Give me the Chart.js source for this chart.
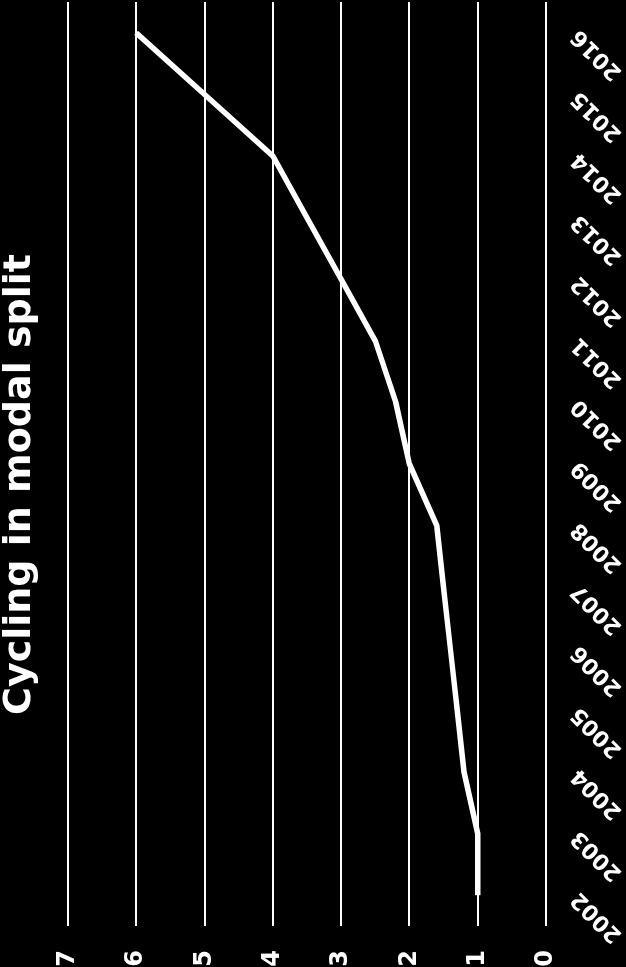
<!DOCTYPE html>
<html>
<head>
<meta charset="utf-8">
<title>Cycling in modal split</title>
<script src="https://cdn.jsdelivr.net/npm/chart.js@4.4.1/dist/chart.umd.min.js"></script>
<style>
  html, body { margin: 0; padding: 0; background: #000; overflow: hidden; }
  /* chart is drawn landscape, then turned a quarter to the left */
  #wrap {
    position: absolute; left: 0; top: 0;
    width: 967px; height: 626px;
    transform-origin: 0 0;
    transform: translateY(967px) rotate(-90deg);
  }
</style>
</head>
<body>
<div id="wrap"><canvas id="modalChart" width="967" height="626"></canvas></div>
<script>
// data
const years = ['2002', '2003', '2004', '2005', '2006', '2007', '2008', '2009',
               '2010', '2011', '2012', '2013', '2014', '2015', '2016'];
const cyclingShare = [1.0, 1.0, 1.2, 1.3, 1.4, 1.5, 1.6, 2.0,
                      2.2, 2.5, 3.0, 3.5, 4.0, 5.0, 6.0];
const yMin = 0;
const yMax = 7;

const font = 'DejaVu Sans';

const ctx = document.getElementById('modalChart').getContext('2d');
new Chart(ctx, {
  type: 'line',
  data: {
    labels: years,
    datasets: [{
      label: 'Cycling',
      data: cyclingShare,
      borderColor: '#fff',
      borderWidth: 5.5,
      pointRadius: 0,
      tension: 0,
      fill: false
    }]
  },
  options: {
    responsive: false,
    animation: false,
    layout: { padding: { left: 0, right: 2, top: 0, bottom: 0 } },
    plugins: {
      legend: { display: false },
      tooltip: { enabled: false },
      title: {
        display: true,
        text: 'Cycling in modal split',
        color: '#fff',
        font: { family: font, weight: 'bold', size: 38, lineHeight: 1.05 },
        padding: { top: 0, bottom: 28 }
      }
    },
    scales: {
      x: {
        offset: true,
        grid: { display: false, drawTicks: false },
        border: { display: false },
        ticks: {
          color: '#fff',
          font: { family: font, weight: 'bold', size: 22 },
          minRotation: 45,
          maxRotation: 45,
          padding: 20
        },
        // the slanted year labels may hang past the plot edges, as in the picture
        afterFit: (scale) => {
          scale.height = 80;
          scale.paddingLeft = 0;
          scale.paddingRight = 0;
        }
      },
      y: {
        min: yMin,
        max: yMax,
        grid: { color: '#fff', lineWidth: 2, drawTicks: false },
        border: { display: false },
        ticks: {
          stepSize: 1,
          color: '#fff',
          font: { family: font, weight: 'bold', size: 24 },
          padding: 24
        },
        afterFit: (scale) => {
          scale.width = 41;
        }
      }
    }
  }
});
</script>
</body>
</html>
